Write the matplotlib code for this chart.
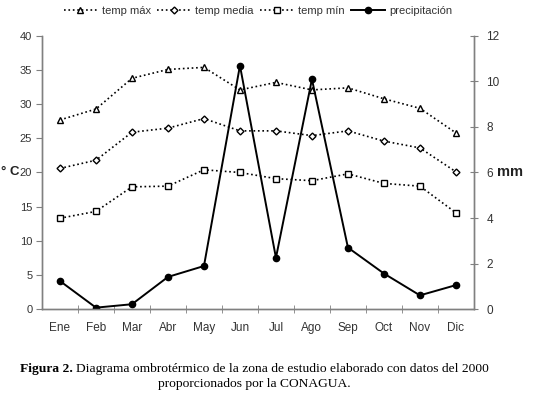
import numpy as np
import matplotlib
matplotlib.use("Agg")
import matplotlib.pyplot as plt

# Monthly climate data
months = ["Ene", "Feb", "Mar", "Abr", "May", "Jun", "Jul", "Ago", "Sep", "Oct", "Nov", "Dic"]
temp_max = [27.7, 29.3, 33.8, 35.1, 35.4, 32.1, 33.2, 32.1, 32.4, 30.8, 29.4, 25.8]
temp_media = [20.6, 21.8, 25.9, 26.5, 27.9, 26.1, 26.1, 25.4, 26.1, 24.6, 23.6, 20.1]
temp_min = [13.3, 14.3, 17.9, 18.0, 20.4, 20.0, 19.1, 18.8, 19.8, 18.4, 18.0, 14.1]
precip = [1.23, 0.06, 0.21, 1.41, 1.89, 10.7, 2.25, 10.1, 2.7, 1.56, 0.6, 1.05]

plt.rcParams['font.family'] = ['Liberation Sans', 'DejaVu Sans']

fig = plt.figure(figsize=(5.41, 3.95), dpi=100)
ax = fig.add_axes([0.0776, 0.2177, 0.7984, 0.6912])
ax2 = ax.twinx()

x = np.arange(len(months))
axis_color = '#808080'
text_color = '#333333'

l1, = ax.plot(x, temp_max, ls=':', color='black', lw=1.2, marker='^', ms=4.5,
              mfc='white', mec='black', mew=1.0, label='temp máx')
l2, = ax.plot(x, temp_media, ls=':', color='black', lw=1.2, marker='D', ms=3.5,
              mfc='white', mec='black', mew=1.0, label='temp media')
l3, = ax.plot(x, temp_min, ls=':', color='black', lw=1.2, marker='s', ms=4,
              mfc='white', mec='black', mew=1.0, label='temp mín')
l4, = ax2.plot(x, precip, ls='-', color='black', lw=1.4, marker='o', ms=4.5,
               label='precipitación')

ax.set_xlim(-0.5, 11.5)
ax.set_ylim(0, 40)
ax.set_yticks(np.arange(0, 41, 5))
ax2.set_ylim(0, 12)
ax2.set_yticks(np.arange(0, 13, 2))

ax.set_xticks(x)
ax.set_xticklabels(months)
ax.set_xticks(np.arange(0.5, 11.5, 1), minor=True)
ax.tick_params(axis='x', which='major', length=0, pad=9, labelsize=8.5, labelcolor=text_color)
ax.tick_params(axis='x', which='minor', length=6, direction='inout', color=axis_color)
ax.tick_params(axis='y', length=4, color=axis_color, labelsize=8, labelcolor=text_color, pad=3)
ax2.tick_params(axis='y', length=6, direction='inout', color=axis_color, labelsize=8.5,
                labelcolor=text_color, pad=6)

for a in (ax, ax2):
    a.spines['top'].set_visible(False)
    for s in ('left', 'right', 'bottom'):
        a.spines[s].set_color(axis_color)
        a.spines[s].set_linewidth(1.0)

fig.text(0.002, 0.565, '° C', fontsize=9.5, fontweight='bold', color='#222222', va='center')
fig.text(0.918, 0.565, 'mm', fontsize=10.5, fontweight='bold', color='#222222', va='center')

fig.legend(handles=[l1, l2, l3, l4], loc='center', bbox_to_anchor=(0.477, 0.973), ncol=4,
           frameon=False, fontsize=8, handlelength=3.0, columnspacing=0.6, handletextpad=0.4,
           labelcolor=text_color)

# caption: bold "Figura 2." followed by regular text, centred as one line
cap_font = ['Liberation Serif', 'DejaVu Serif']
cap_size = 9.7
cap_x = 0.47
t1 = fig.text(0, 0.065, 'Diagrama ombrotérmico de la zona de estudio elaborado con datos del 2000',
              fontsize=cap_size, family=cap_font, ha='left', va='center')
tb = fig.text(0, 0.065, 'Figura 2. ', fontsize=cap_size, family=cap_font, fontweight='bold',
              va='center')
fig.canvas.draw()
r = fig.canvas.get_renderer()
w1 = t1.get_window_extent(r).width
wb = tb.get_window_extent(r).width
start = cap_x - (w1 + wb) / fig.bbox.width / 2
tb.set_x(start)
t1.set_x(start + wb / fig.bbox.width)
fig.text(cap_x, 0.027, 'proporcionados por la CONAGUA.', fontsize=cap_size, family=cap_font,
         ha='center', va='center')

fig.savefig('out.png', dpi=100)
